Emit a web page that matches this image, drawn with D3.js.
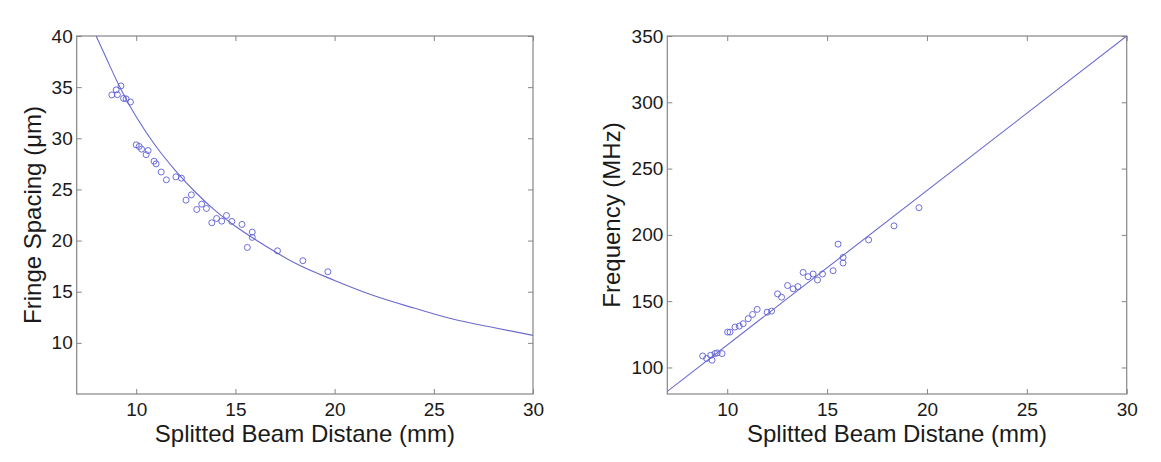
<!DOCTYPE html>
<html><head><meta charset="utf-8">
<script src="https://cdn.jsdelivr.net/npm/d3@7"></script>
<style>
body{margin:0;background:#fff;}
svg{display:block;font-family:"Liberation Sans",Arial,sans-serif;}
</style></head>
<body>
<svg id="c" width="1161" height="462"></svg>
<script>
// ---- Left panel: fringe spacing data ----
const fringeX = [8.77,8.99,9.23,9.05,9.36,9.49,9.71,10.0,10.15,10.27,10.6,10.5,10.9,11.0,11.26,11.52,12.0,12.28,12.51,12.78,13.05,13.3,13.54,13.81,14.05,14.31,14.55,14.82,15.33,15.6,15.85,15.85,17.12,18.4,19.66];
const fringeY = [34.24,34.73,35.12,34.27,33.9,33.85,33.55,29.36,29.2,28.94,28.8,28.4,27.76,27.5,26.7,25.94,26.23,26.1,23.95,24.47,23.04,23.56,23.14,21.74,22.16,21.9,22.45,21.87,21.58,19.33,20.83,20.31,19.0,18.03,16.95];
// fitted curve
const fitX = [7.98,8.5,9,9.5,10,11,12,13,14,15,16,17,18,20,22,24,26,28,30];
const fitY = [40.0,37.8,35.7,33.8,32.1,29.2,26.8,24.7,22.9,21.4,20.1,18.9,17.8,16.1,14.6,13.4,12.3,11.5,10.73];
const leftXTicks = [10,15,20,25,30];
const leftYTicks = [10,15,20,25,30,35,40];

// ---- Right panel: frequency data ----
const freqX = [8.77,8.97,9.17,9.24,9.39,9.5,9.74,10.02,10.14,10.39,10.6,10.8,11.05,11.27,11.5,12.0,12.22,12.52,12.72,13.02,13.3,13.54,13.8,14.05,14.3,14.52,14.77,15.3,15.55,15.8,15.8,17.08,18.35,19.6];
const freqY = [108.7,106.8,109.2,105.5,110.5,111,110.5,126.7,126.7,130.5,131.2,133,136.8,140,143.8,141.7,142.5,155.5,153,161.8,159.3,161,171.7,168.5,170.5,166,170.5,173,193,183,178.8,196.2,206.8,220.5];
const lineX = [7,30];
const lineY = [82,350];
const rightXTicks = [10,15,20,25,30];
const rightYTicks = [100,150,200,250,300,350];

const xLabel = "Splitted Beam Distane (mm)";
const leftYLabel = "Fringe Spacing (\u03bcm)";
const rightYLabel = "Frequency (MHz)";

const svg = d3.select("#c");
const axisColor = "#858585";
const markColor = "#5e5ed8";
const lineColor = "#6a6acc";

function panel(cfg){
  const x = d3.scaleLinear().domain(cfg.xDomain).range([cfg.x0, cfg.x1]);
  const y = d3.scaleLinear().domain(cfg.yDomain).range([cfg.y1, cfg.y0]);
  const g = svg.append("g");
  const tl = 5;
  g.append("rect").attr("x",cfg.x0).attr("y",cfg.y0)
    .attr("width",cfg.x1-cfg.x0).attr("height",cfg.y1-cfg.y0)
    .attr("fill","none").attr("stroke",axisColor).attr("stroke-width",1.2);
  const bottom = g.append("g").attr("transform",`translate(0,${cfg.y1})`)
    .call(d3.axisBottom(x).tickValues(cfg.xTicks).tickSize(-tl).tickPadding(9).tickFormat(d3.format("d")));
  const top = g.append("g").attr("transform",`translate(0,${cfg.y0})`)
    .call(d3.axisTop(x).tickValues(cfg.xTicks).tickSize(-tl).tickFormat(""));
  const left = g.append("g").attr("transform",`translate(${cfg.x0},0)`)
    .call(d3.axisLeft(y).tickValues(cfg.yTicks).tickSize(-tl).tickPadding(4).tickFormat(d3.format("d")));
  const right = g.append("g").attr("transform",`translate(${cfg.x1},0)`)
    .call(d3.axisRight(y).tickValues(cfg.yTicks).tickSize(-tl).tickFormat(""));
  [bottom,top,left,right].forEach(a=>{
    a.select(".domain").remove();
    a.selectAll(".tick line").attr("stroke",axisColor);
    a.selectAll("text").attr("fill","#1a1a1a").style("font-size","19px")
      .style("font-family","'Liberation Sans',Arial,sans-serif");
  });
  bottom.selectAll("text").attr("dy","0.71em");
  g.append("text").attr("x",(cfg.x0+cfg.x1)/2).attr("y",442)
    .attr("text-anchor","middle").attr("fill","#1a1a1a").style("font-size","24px")
    .text(xLabel);
  g.append("text").attr("transform",`translate(${cfg.ylx},${(cfg.y0+cfg.y1)/2}) rotate(-90)`)
    .attr("text-anchor","middle").attr("fill","#1a1a1a").style("font-size","24px")
    .text(cfg.yLabel);
  const cid = "clip"+cfg.id;
  svg.append("clipPath").attr("id",cid).append("rect")
    .attr("x",cfg.x0).attr("y",cfg.y0).attr("width",cfg.x1-cfg.x0).attr("height",cfg.y1-cfg.y0);
  const pts = cfg.lx.map((v,i)=>[v,cfg.ly[i]]);
  g.append("path").datum(pts).attr("clip-path",`url(#${cid})`)
    .attr("d",d3.line().x(d=>x(d[0])).y(d=>y(d[1])).curve(d3.curveMonotoneX))
    .attr("fill","none").attr("stroke",lineColor).attr("stroke-width",1.1);
  const dp = cfg.px.map((v,i)=>[v,cfg.py[i]]);
  g.append("g").selectAll("circle").data(dp).join("circle")
    .attr("cx",d=>x(d[0])).attr("cy",d=>y(d[1])).attr("r",3)
    .attr("fill","none").attr("stroke",markColor).attr("stroke-width",0.9);
}

panel({id:"L", x0:76.7, x1:533, y0:36, y1:394, xDomain:[7,30], yDomain:[5,40],
  xTicks:leftXTicks, yTicks:leftYTicks, yLabel:leftYLabel, ylx:41,
  px:fringeX, py:fringeY, lx:fitX, ly:fitY});
panel({id:"R", x0:667.3, x1:1126.7, y0:36, y1:394, xDomain:[7,30], yDomain:[80,350],
  xTicks:rightXTicks, yTicks:rightYTicks, yLabel:rightYLabel, ylx:620,
  px:freqX, py:freqY, lx:lineX, ly:lineY});
</script>
</body></html>
